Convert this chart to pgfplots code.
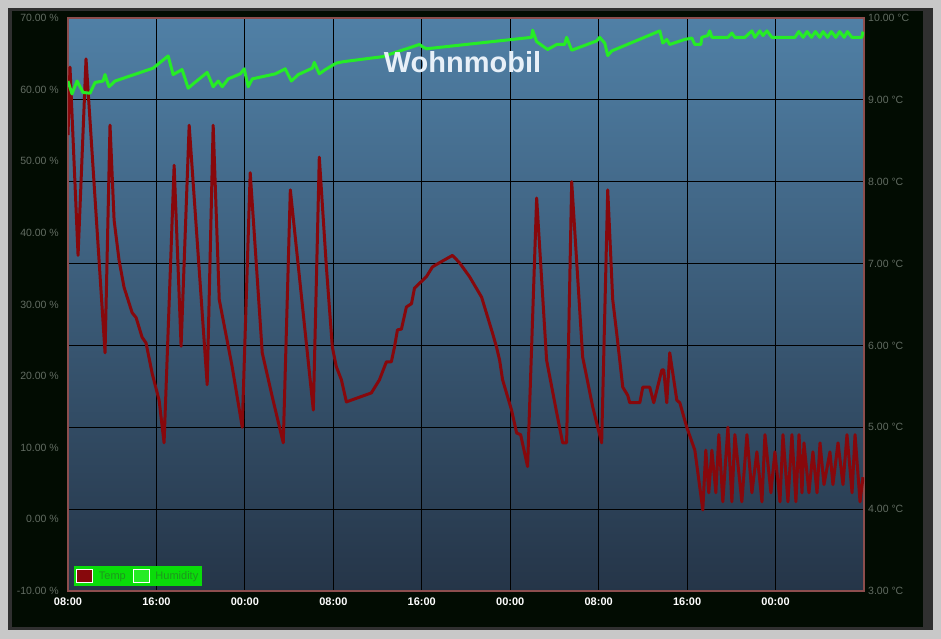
\documentclass[border=0pt]{standalone}
\usepackage{fontspec}
\setmainfont{Liberation Sans}
\usepackage{pgfplots}
\pgfplotsset{compat=1.18}
\usepackage{pgfplotstable}

\definecolor{outergray}{RGB}{200,200,200}
\definecolor{framegray}{RGB}{48,48,48}
\definecolor{bgblack}{RGB}{2,12,2}
\definecolor{plottop}{RGB}{80,128,166}
\definecolor{plotbot}{RGB}{37,53,72}
\definecolor{bordercol}{RGB}{140,78,78}
\definecolor{tempc}{RGB}{135,8,12}
\definecolor{humc}{RGB}{38,236,38}
\definecolor{ticklab}{RGB}{98,108,98}
\definecolor{legbg}{RGB}{10,220,10}
\definecolor{legtext}{RGB}{30,150,30}
\definecolor{titlec}{RGB}{232,240,248}

\pgfplotstableread{
h T
0 8.57
0.18 9.40
0.91 7.10
1.63 9.50
3.35 5.91
3.80 8.69
4.17 7.53
4.62 7.04
5.07 6.71
5.80 6.40
6.16 6.34
6.70 6.10
7.06 6.03
7.61 5.66
8.24 5.33
8.69 4.81
9.60 8.20
10.23 5.99
10.96 8.69
12.59 5.52
13.13 8.69
13.68 6.56
14.85 5.74
15.76 5.00
16.48 8.11
17.57 5.91
18.48 5.37
19.47 4.81
20.11 7.90
22.19 5.21
22.73 8.30
23.37 6.96
23.91 5.98
24.27 5.74
24.73 5.58
25.18 5.31
27.44 5.42
28.17 5.58
28.80 5.80
29.25 5.80
29.53 5.98
29.80 6.19
30.16 6.20
30.61 6.47
31.07 6.51
31.34 6.70
32.42 6.84
32.97 6.96
33.60 7.01
34.78 7.10
35.41 7.01
36.32 6.84
37.41 6.59
38.40 6.15
38.76 5.98
39.04 5.82
39.31 5.58
40.12 5.21
40.58 4.93
40.94 4.91
41.57 4.52
42.39 7.80
43.29 5.82
44.20 5.18
44.74 4.81
45.10 4.81
45.56 8.00
46.55 5.86
47.46 5.25
48.27 4.81
48.82 7.90
49.27 6.56
49.63 6.15
50.18 5.49
50.63 5.39
50.81 5.30
51.72 5.30
51.99 5.49
52.62 5.49
52.98 5.30
53.71 5.70
53.89 5.70
54.16 5.30
54.43 5.91
55.07 5.33
55.34 5.30
55.97 5.00
56.70 4.72
57.42 3.99
57.69 4.72
57.96 4.20
58.24 4.72
58.60 4.20
58.87 4.91
59.23 4.09
59.69 5.00
60.05 4.09
60.32 4.91
60.95 4.09
61.41 4.91
61.86 4.20
62.31 4.70
62.77 4.09
63.04 4.91
63.58 4.20
63.94 4.70
64.40 4.09
64.67 4.91
65.12 4.09
65.48 4.91
65.84 4.09
66.12 4.91
66.39 4.20
66.57 4.81
67.02 4.20
67.38 4.70
67.75 4.20
68.02 4.81
68.38 4.30
68.92 4.70
69.19 4.30
69.65 4.81
70.10 4.30
70.46 4.91
70.92 4.20
71.19 4.91
71.64 4.09
71.91 4.39
}\temp

\pgfplotstableread{
h H
0 61.2
0.36 59.4
0.82 61.2
1.36 59.6
1.99 59.5
2.45 61.0
3.17 61.2
3.35 62.1
3.53 61.2
3.71 60.4
4.26 61.2
7.70 63.0
9.06 64.7
9.51 62.1
10.32 62.8
10.87 60.2
11.32 60.8
12.59 62.4
13.13 60.4
13.59 61.2
13.95 60.4
14.49 61.5
15.58 62.2
15.94 62.9
16.30 60.4
16.67 61.5
18.75 62.2
19.65 62.9
20.20 61.2
20.83 62.1
22.10 63.0
22.28 63.8
22.73 62.2
23.28 62.8
24.27 63.7
24.90 63.9
28.44 64.6
31.79 66.3
32.06 66.0
32.42 65.7
41.93 67.3
42.02 68.3
42.39 66.7
43.38 65.6
44.20 66.3
44.92 66.3
45.10 67.3
45.56 65.5
47.82 66.8
48.09 67.3
48.55 66.5
48.82 64.75
49.18 65.4
53.53 68.2
53.80 66.5
54.16 67.0
54.43 66.3
55.79 67.0
56.42 67.2
56.70 66.3
57.24 66.3
57.33 67.3
57.87 67.55
58.05 68.2
58.24 67.3
59.69 67.3
60.05 67.9
60.32 67.3
61.23 67.3
61.86 68.2
62.13 67.3
62.58 68.2
62.86 67.55
63.22 68.2
63.67 67.3
65.75 67.3
66.10 68.1
66.50 67.3
66.85 68.1
67.25 67.3
67.60 68.1
68.00 67.3
68.30 68.1
68.70 67.3
69.05 68.1
69.45 67.3
69.80 68.1
70.20 67.3
70.50 68.1
70.90 67.3
71.80 67.3
71.91 68.1
}\hum

\begin{document}
\begin{tikzpicture}
\useasboundingbox (0,0) rectangle (941bp,639bp);
\fill[outergray] (0,0) rectangle (941bp,639bp);
\fill[framegray] (8bp,9bp) rectangle (933bp,631bp);
\fill[bgblack] (12bp,12bp) rectangle (923bp,628bp);

\begin{axis}[
  at={(68bp,48bp)}, anchor=south west, scale only axis,
  width=796bp, height=573bp,
  xmin=0, xmax=72, ymin=3, ymax=10,
  axis background/.style={top color=plottop, bottom color=plotbot},
  axis line style={draw=bordercol, line width=2bp},
  xtick={0,8,...,64},
  xticklabels={08:00,16:00,00:00,08:00,16:00,00:00,08:00,16:00,00:00},
  ytick={3,4,...,10},
  yticklabels={3.00 °C,4.00 °C,5.00 °C,6.00 °C,7.00 °C,8.00 °C,9.00 °C,10.00 °C},
  yticklabel pos=right,
  grid=major, major grid style={black, line width=0.9bp},
  major tick length=0pt, tick style={draw=none},
  xticklabel style={font=\fontsize{11bp}{13bp}\selectfont\bfseries, text=white, inner sep=0pt, anchor=north, yshift=-7bp},
  yticklabel style={font=\fontsize{10.5bp}{12bp}\selectfont, text=ticklab, inner sep=0pt, anchor=west, xshift=4bp},
]
\addplot[tempc, line width=3bp, line join=round] table[x=h, y=T] {\temp};
\end{axis}

\begin{axis}[
  at={(68bp,48bp)}, anchor=south west, scale only axis,
  width=796bp, height=573bp,
  xmin=0, xmax=72, ymin=-10, ymax=70,
  axis line style={draw=none},
  xtick=\empty,
  ytick={-10,0,...,70},
  yticklabels={-10.00 \%,0.00 \%,10.00 \%,20.00 \%,30.00 \%,40.00 \%,50.00 \%,60.00 \%,70.00 \%},
  yticklabel pos=left,
  major tick length=0pt, tick style={draw=none},
  yticklabel style={font=\fontsize{10.5bp}{12bp}\selectfont, text=ticklab, inner sep=0pt, anchor=east, xshift=-9bp},
  title={Wohnmobil},
  title style={at={(axis description cs:0.4956,0.912)}, anchor=center, font=\fontsize{29bp}{34bp}\selectfont\bfseries, text=titlec, inner sep=0pt},
  legend columns=2,
  legend style={at={(axis description cs:0.00754,0.00873)}, anchor=south west, fill=legbg, draw=none,
    font=\fontsize{11bp}{13bp}\selectfont, text=legtext, inner xsep=2bp, inner ysep=3bp,
    /tikz/every odd column/.append style={column sep=4bp},
    /tikz/every even column/.append style={column sep=5bp}},
]
\addplot[humc, line width=3bp, line join=round, forget plot] table[x=h, y=H] {\hum};
\addlegendimage{legend image code/.code={\draw[fill=tempc,draw=white,line width=0.7bp] (0bp,-6bp) rectangle (16bp,7bp);}}
\addlegendentry{Temp}
\addlegendimage{legend image code/.code={\draw[fill=humc,draw=white,line width=0.7bp] (0bp,-6bp) rectangle (16bp,7bp);}}
\addlegendentry{Humidity}
\end{axis}
\end{tikzpicture}
\end{document}
